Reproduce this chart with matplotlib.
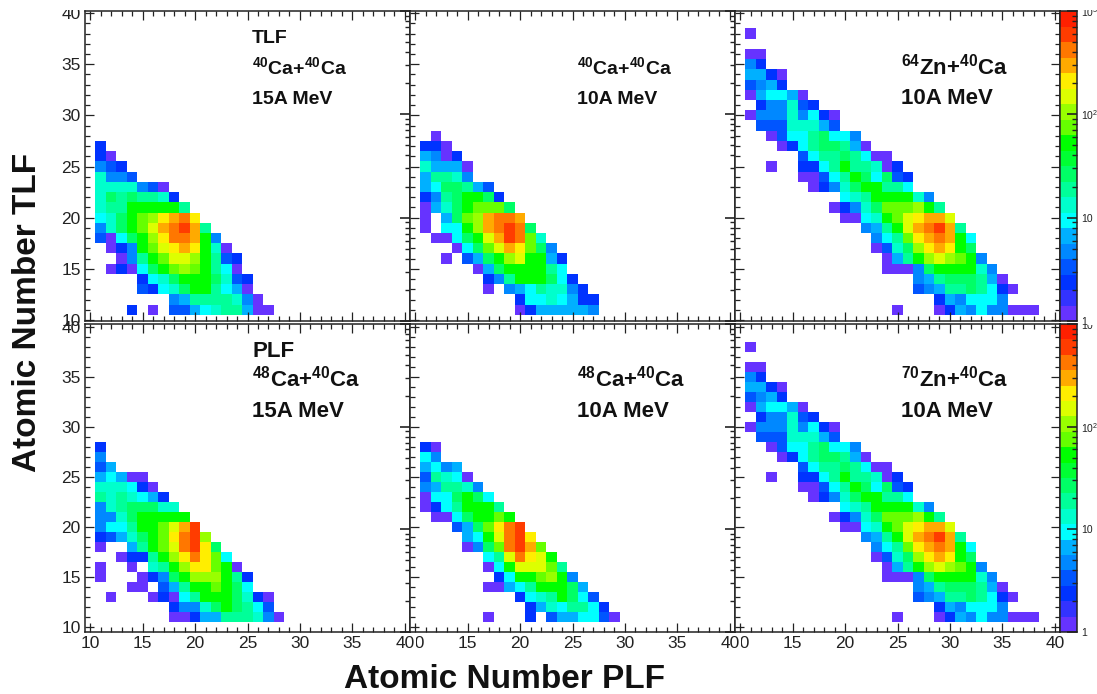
import numpy as np
import matplotlib
matplotlib.use("Agg")
import matplotlib.pyplot as plt
from matplotlib.colors import ListedColormap, BoundaryNorm
from matplotlib.ticker import MultipleLocator, LogLocator, NullFormatter, FixedLocator, FixedFormatter
from matplotlib.transforms import Bbox

W, H = 1097, 694

plt.rcParams['font.family'] = ['Liberation Sans', 'DejaVu Sans']
plt.rcParams['mathtext.fontset'] = 'custom'
plt.rcParams['mathtext.rm'] = 'Liberation Sans'
plt.rcParams['mathtext.bf'] = 'Liberation Sans:bold'
plt.rcParams['mathtext.default'] = 'bf'

# colour levels of the z axis, bottom to top
palette = ['#6633FF', '#3333FF', '#0033FF', '#0055FF', '#0088FF',
           '#00B0FF', '#00FFFF', '#00FFCC', '#00FF99', '#00FF66',
           '#00FF33', '#00FF00', '#66FF00', '#99FF00', '#DDFF00',
           '#FFEE00', '#FFAA00', '#FF7700', '#FF3C00', '#FF2000']

_ = None  # empty bin

# every row: (Z TLF, first Z PLF, colour level per bin)
ca40_15 = [
    (27, 11, [2]),
    (26, 11, [2, 0]),
    (25, 11, [4, 3, 2]),
    (24, 11, [7, 4, 4, 3]),
    (23, 11, [7, 7, 7, 7, 4, 3, 0]),
    (22, 11, [7, 9, 8, 9, 8, 8, 7, 2]),
    (21, 11, [7, 8, 8, 11, 11, 11, 11, 11, 8]),
    (20, 11, [6, 7, 9, 11, 12, 13, 15, 16, 17, 15]),
    (19, 11, [4, 7, 9, 11, 12, 14, 16, 17, 18, 16, 8]),
    (18, 11, [3, 0, 6, 9, 11, 13, 15, 17, 17, 16, 11, 4]),
    (17, 12, [0, 2, 4, 11, 12, 14, 15, 16, 15, 11, 7, 0]),
    (16, 13, [0, 4, 8, 11, 12, 14, 14, 13, 11, 8, 3, 2]),
    (15, 12, [0, 2, 0, 6, 9, 11, 12, 13, 12, 11, 8, 6, 0]),
    (14, 15, [2, 6, 7, 9, 11, 11, 11, 9, 7, 3, 2]),
    (13, 15, [3, 2, 6, 7, 9, 11, 11, 8, 6, 5, 0]),
    (12, 18, [4, 5, 8, 8, 8, 8, 7, 4, 0]),
    (11, 14, [2, _, 0, _, 3, 3, 5, 6, 7, 8, 8, 5, 0, 0]),
]

ca40_10 = [
    (28, 12, [0]),
    (27, 11, [2, 2, 0]),
    (26, 11, [5, 4, 0, 2]),
    (25, 11, [7, 5, 5, 5, 0]),
    (24, 11, [5, 8, 8, 7, 4]),
    (23, 11, [5, 6, 9, 9, 8, 5, 3]),
    (22, 11, [2, 4, 8, 9, 11, 11, 9, 2]),
    (21, 11, [0, 5, 7, 9, 11, 12, 12, 12, 9]),
    (20, 11, [0, _, 5, 9, 12, 13, 16, 17, 17, 16]),
    (19, 11, [0, _, 6, 6, 11, 13, 16, 17, 18, 17, 9]),
    (18, 12, [0, 0, 6, 9, 11, 14, 16, 18, 17, 12, 7]),
    (17, 14, [0, 6, 9, 12, 14, 16, 15, 12, 9, 4]),
    (16, 13, [0, _, 3, 5, 9, 11, 13, 14, 11, 11, 5, 2]),
    (15, 16, [0, 5, 9, 11, 11, 11, 11, 8, 6]),
    (14, 17, [2, 4, 8, 11, 11, 11, 9, 6, 2]),
    (13, 17, [0, _, 4, 5, 6, 8, 7, 7, 4, 2]),
    (12, 20, [2, 6, 6, 7, 6, 5, 2, 2]),
    (11, 20, [0, 2, 5, 5, 5, 5, 5, 4]),
]

zn64_10 = [
    (38, 11, [0]),
    (36, 11, [0, 0]),
    (35, 11, [4, 2]),
    (34, 11, [5, 5, 2, 0]),
    (33, 11, [3, 4, 5, 2]),
    (32, 11, [0, 5, 6, 6, 5, 0]),
    (31, 12, [2, 4, 4, 7, 3, 2]),
    (30, 11, [0, 4, 4, 4, 7, 4, 6, 2, 0]),
    (29, 12, [3, 3, 3, 7, 7, 7, 5, 3]),
    (28, 13, [0, 3, 6, 6, 8, 9, 6, 6, 4]),
    (27, 14, [0, 2, 6, 8, 9, 9, 8, 5, 0]),
    (26, 16, [3, 6, 8, 8, 9, 8, 6, 0, 0]),
    (25, 13, [0, _, _, 2, 2, 6, 8, 11, 8, 8, 7, 0, 2]),
    (24, 16, [0, 0, 3, 6, 8, 11, 9, 6, 9, 3, 2]),
    (23, 17, [0, 2, 4, 7, 9, 11, 11, 8, 8, 6]),
    (22, 20, [6, 7, 8, 11, 11, 11, 11, 7, 4]),
    (21, 19, [0, 2, 4, 7, 9, 12, 12, 12, 13, 11, 8]),
    (20, 20, [0, 0, 6, 7, 11, 12, 14, 15, 16, 16, 14]),
    (19, 22, [4, 5, 8, 11, 14, 16, 17, 18, 16, 8]),
    (18, 23, [4, 6, 8, 12, 15, 16, 17, 16, 11, 6]),
    (17, 23, [0, 3, 7, 9, 13, 15, 16, 15, 11, 9]),
    (16, 24, [0, 5, 8, 11, 13, 14, 13, 12, 11, 4]),
    (15, 24, [0, 0, 0, 4, 9, 11, 11, 11, 11, 7, 4]),
    (14, 27, [4, 5, 8, 9, 9, 9, 8, 5, 0]),
    (13, 27, [3, 4, 5, 8, 8, 9, 8, 6, 2, 0]),
    (12, 29, [2, 5, 4, 6, 6, 6, 4]),
    (11, 25, [0, _, _, _, 0, 2, 5, 4, 6, 4, 4, 0, 0, 0]),
]

ca48_15 = [
    (28, 11, [2]),
    (27, 11, [4]),
    (26, 11, [3, 5]),
    (25, 11, [5, 6, 5, 0, 0]),
    (24, 11, [7, 7, 7, 6, 2, 0]),
    (23, 11, [8, 7, 8, 7, 6, 5, 2]),
    (22, 11, [4, 7, 8, 9, 9, 9, 7, 7]),
    (21, 11, [4, 4, 7, 9, 11, 11, 11, 11, 11]),
    (20, 11, [4, 6, 6, 8, 11, 11, 12, 14, 16, 18]),
    (19, 11, [2, 3, 5, 7, 9, 11, 12, 15, 17, 18, 13]),
    (18, 11, [0, _, _, 5, 8, 11, 12, 14, 17, 18, 15, 9]),
    (17, 13, [0, 2, 2, 8, 11, 13, 15, 17, 15, 12, 6]),
    (16, 11, [0, _, _, 0, _, 7, 8, 11, 13, 15, 15, 12, 11, 0]),
    (15, 11, [0, _, _, _, 0, 2, 4, 9, 11, 13, 13, 13, 11, 8, 2]),
    (14, 14, [0, 0, _, 3, 5, 8, 11, 11, 12, 11, 9, 6]),
    (13, 12, [0, _, _, _, 0, 2, 0, 6, 8, 11, 11, 11, 9, 7, 2, 0]),
    (12, 18, [2, 4, 4, 7, 9, 11, 9, 8, 6, 3]),
    (11, 18, [0, 0, 2, 5, 5, 8, 8, 8, 7, 4, 0]),
]

ca48_10 = [
    (28, 11, [2, 0]),
    (27, 11, [6, 4]),
    (26, 11, [5, 6, 4, 5]),
    (25, 11, [3, 8, 7, 6, 0]),
    (24, 11, [4, 5, 8, 8, 7, 4]),
    (23, 11, [0, 6, 6, 9, 11, 9, 6]),
    (22, 11, [0, 2, 6, 8, 11, 11, 11, 8]),
    (21, 12, [0, 0, 6, 9, 11, 11, 12, 11]),
    (20, 14, [3, 5, 9, 12, 15, 17, 18]),
    (19, 15, [5, 6, 11, 14, 17, 18, 15]),
    (18, 15, [0, 4, 9, 12, 17, 18, 16, 12]),
    (17, 17, [6, 8, 14, 17, 15, 14, 11]),
    (16, 17, [0, 6, 11, 14, 14, 14, 12, 8]),
    (15, 18, [2, 6, 11, 11, 12, 13, 11, 4]),
    (14, 17, [0, 0, 5, 6, 8, 11, 11, 11, 9, 5]),
    (13, 20, [2, 6, 7, 8, 11, 9, 6, 3]),
    (12, 21, [2, 5, 7, 6, 8, 8, 6, 2]),
    (11, 17, [0, _, _, _, 2, _, 3, 5, 5, 6, 6, 3, 0]),
]

zn70_10 = zn64_10  # the published panel repeats the 64Zn pattern

panel_rows = [ca40_15, ca40_10, zn64_10, ca48_15, ca48_10, zn70_10]
panel_text = [
    ['TLF', '$^{40}$Ca+$^{40}$Ca', '15A MeV'],
    ['$^{40}$Ca+$^{40}$Ca', '10A MeV'],
    ['$^{64}$Zn+$^{40}$Ca', '10A MeV'],
    ['PLF', '$^{48}$Ca+$^{40}$Ca', '15A MeV'],
    ['$^{48}$Ca+$^{40}$Ca', '10A MeV'],
    ['$^{70}$Zn+$^{40}$Ca', '10A MeV'],
]
panel_size = [14, 14, 16, 16, 16, 16]
panel_x = [252, 577, 901, 252, 577, 901]
panel_base = [[43, 74, 104], [74, 104], [74, 104],
              [357, 387, 417], [387, 417], [387, 417]]

col_px = [(85, 410), (410, 735), (735, 1060)]
row_px = [(11, 321), (324, 632)]
row_ylim = [(9.9, 40.2), (9.5, 40.3)]

cbar_labels = ['1', '10', r'$\mathrm{10^{2}}$', r'$\mathrm{10^{3}}$']

cmap = ListedColormap(palette)
norm = BoundaryNorm(np.arange(-0.5, 20.5), 20)
FRAME = '#222222'


def add_axes(x0, x1, y0, y1):
    return fig.add_axes([x0 / W, 1 - y1 / H, (x1 - x0) / W, (y1 - y0) / H])


def fill_grid(rows):
    grid = np.full((30, 30), np.nan)
    for z, first, levels in rows:
        for i, level in enumerate(levels):
            if level is not None:
                grid[z - 11, first - 11 + i] = level
    return np.ma.masked_invalid(grid)


def clip_label(label, top=0, left=0):
    # labels were cut off by the neighbouring pad in the original
    label.set_clip_on(True)
    label.set_clip_box(Bbox.from_extents(left, 0, W, H - top))


def log_ticks(ax, labels=False):
    ax.set_yscale('log')
    ax.set_ylim(1, 1000)
    ax.yaxis.set_major_locator(FixedLocator([1, 10, 100, 1000]))
    ax.yaxis.set_minor_locator(LogLocator(base=10, subs=range(2, 10)))
    ax.yaxis.set_minor_formatter(NullFormatter())
    ax.yaxis.set_ticks_position('right')
    ax.tick_params(axis='y', which='major', direction='in', length=7, width=1.2,
                   color=FRAME, labelsize=7.5, pad=3, labelright=labels)
    ax.tick_params(axis='y', which='minor', direction='in', length=3.5, width=1.0, color=FRAME)


fig = plt.figure(figsize=(W / 100, H / 100), dpi=100)

for n, rows in enumerate(panel_rows):
    r, c = n // 3, n % 3
    ax = add_axes(col_px[c][0], col_px[c][1], row_px[r][0], row_px[r][1])
    edges = np.arange(10.5, 41.5)
    ax.pcolormesh(edges, edges, fill_grid(rows), cmap=cmap, norm=norm)
    ax.set_xlim(9.5, 40.5)
    ax.set_ylim(*row_ylim[r])
    ax.xaxis.set_major_locator(MultipleLocator(5))
    ax.xaxis.set_minor_locator(MultipleLocator(1))
    ax.yaxis.set_major_locator(MultipleLocator(5))
    ax.yaxis.set_minor_locator(MultipleLocator(1))
    ax.tick_params(which='major', direction='in', top=True, right=True, length=6.5,
                   width=0.9, color=FRAME, labelcolor=FRAME, labelsize=12.5, pad=3,
                   labelbottom=(r == 1), labelleft=(c == 0))
    ax.tick_params(which='minor', direction='in', top=True, right=True, length=3.5,
                   width=0.9, color=FRAME)
    for spine in ax.spines.values():
        spine.set_color(FRAME)
        spine.set_linewidth(1.1)
    fig.canvas.draw()
    if r == 0 and c == 0:
        for lbl in ax.get_yticklabels():
            clip_label(lbl, top=9.5)
    if r == 1 and c > 0:
        # the "1" of each inner "10" hides under the left neighbour's "40"
        for lbl in ax.get_xticklabels():
            clip_label(lbl, left=col_px[c][0] + 5.5)
    if c < 2:
        # log ticks of the colour scale show through on the pad edge
        twin = ax.twinx()
        log_ticks(twin)
        twin.patch.set_visible(False)
        for spine in twin.spines.values():
            spine.set_visible(False)
    for line, base in zip(panel_text[n], panel_base[n]):
        fig.text(panel_x[n] / W, 1 - base / H, line, fontsize=panel_size[n],
                 fontweight='bold', va='baseline', ha='left', color='#111111',
                 math_fontfamily='custom')

# colour scale, one per row
levels = np.arange(20)
bar_edges = np.logspace(0, 3, 21)
for r in range(2):
    cax = add_axes(1060, 1077, row_px[r][0], row_px[r][1])
    cax.pcolormesh([0, 1], bar_edges, levels[:, None], cmap=cmap, norm=norm)
    cax.set_xticks([])
    log_ticks(cax, labels=True)
    cax.yaxis.set_major_formatter(FixedFormatter(cbar_labels))
    for spine in cax.spines.values():
        spine.set_color(FRAME)
        spine.set_linewidth(1.1)
    fig.canvas.draw()
    for lbl in cax.get_yticklabels():
        lbl.set_color(FRAME)
    clip_label(cax.get_yticklabels()[3], top=9.5 if r == 0 else 324.5)

fig.text(504 / W, 1 - 688 / H, 'Atomic Number PLF', fontsize=24, fontweight='bold',
         ha='center', va='baseline', color='#111111')
fig.text(36 / W, 1 - 312 / H, 'Atomic Number TLF', fontsize=24, fontweight='bold',
         rotation=90, ha='center', va='baseline', rotation_mode='anchor', color='#111111')

fig.savefig('out.png', dpi=100)
